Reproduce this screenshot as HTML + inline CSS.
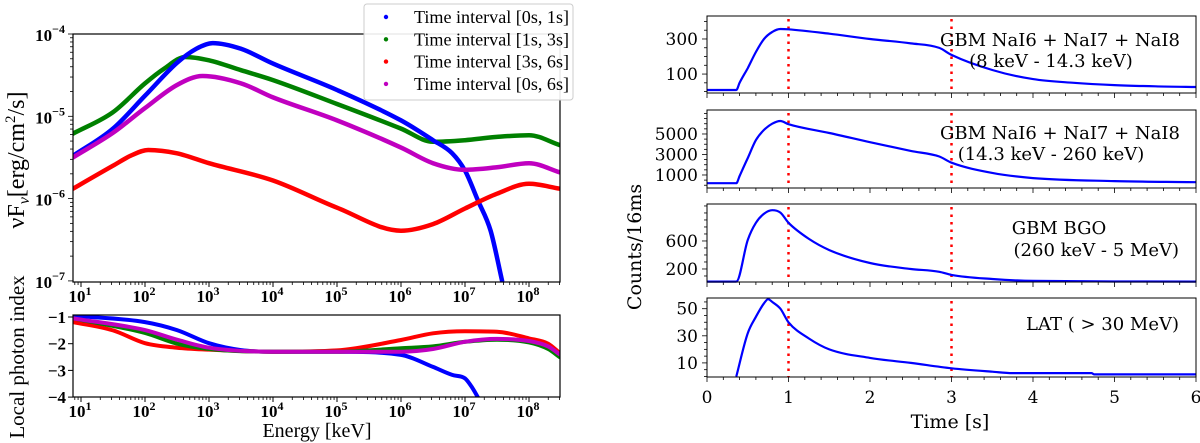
<!DOCTYPE html>
<html><head><meta charset="utf-8"><style>
html,body{margin:0;padding:0;background:#fff;}
svg{display:block;font-family:"Liberation Serif","DejaVu Serif",serif;}
.dv{font-family:"DejaVu Serif","Liberation Serif",serif;}
</style></head><body>
<svg id="fig" width="1200" height="443" viewBox="0 0 1200 443" xmlns="http://www.w3.org/2000/svg"></svg>
<script>
// ---------- Data: spectra (log10 E [keV] vs log10 nuFnu) ----------
const specNames = ["Time interval [0s, 1s]","Time interval [1s, 3s]","Time interval [3s, 6s]","Time interval [0s, 6s]"];
const specColors = ["#0000ff","#008000","#ff0000","#c000c0"];
const blueLogE = [0.875,1.5,2,2.5,2.8,3.06,3.5,4,5,6,6.5,6.8,7,7.2,7.4,7.58];
const blueLogF = [-5.48,-5.15,-4.75,-4.35,-4.18,-4.11,-4.18,-4.36,-4.68,-5.05,-5.29,-5.45,-5.66,-6.02,-6.39,-7.0];
const greenLogE = [0.875,1.5,2,2.3,2.63,3,3.5,4,5,6,6.5,7,7.5,8,8.48];
const greenLogF = [-5.21,-4.95,-4.6,-4.42,-4.28,-4.32,-4.44,-4.56,-4.85,-5.15,-5.31,-5.29,-5.25,-5.23,-5.35];
const redLogE = [0.875,1.5,1.8,2.05,2.5,3,4,5,6,6.5,7,7.5,8,8.48];
const redLogF = [-5.88,-5.6,-5.47,-5.41,-5.45,-5.57,-5.78,-6.11,-6.39,-6.31,-6.12,-5.94,-5.82,-5.88];
const magLogE = [0.875,1.5,2,2.5,2.9,3.5,4,5,6,6.5,7,7.5,8,8.48];
const magLogF = [-5.5,-5.2,-4.9,-4.62,-4.51,-4.6,-4.77,-5.05,-5.38,-5.57,-5.65,-5.62,-5.57,-5.68];
// ---------- Data: local photon index ----------
const blueIdxE = [0.875,2,2.5,3,3.5,4,5,6,6.5,6.8,7,7.1,7.2];
const blueIdx  = [-0.95,-1.19,-1.49,-1.98,-2.24,-2.3,-2.3,-2.42,-2.87,-3.17,-3.3,-3.6,-4.0];
const greenIdxE = [0.875,2,2.5,3,4,5,6,6.5,7,7.5,8,8.3,8.48];
const greenIdx  = [-1.05,-1.6,-2.0,-2.2,-2.3,-2.3,-2.17,-2.1,-1.93,-1.85,-1.95,-2.2,-2.5];
const redIdxE = [0.875,1.5,2,2.5,3,4,5,6,6.5,7,7.5,8,8.3,8.48];
const redIdx  = [-1.19,-1.5,-1.98,-2.15,-2.22,-2.3,-2.25,-1.86,-1.61,-1.53,-1.55,-1.8,-2.0,-2.35];
const magIdxE = [0.875,2,2.5,3,4,5,6,6.5,7,7.5,8,8.3,8.48];
const magIdx  = [-1.05,-1.49,-1.85,-2.15,-2.3,-2.3,-2.3,-2.2,-1.93,-1.82,-1.9,-2.1,-2.4];
// ---------- Data: light curves ----------
const lc1T = [0,0.36,0.4,0.5,0.6,0.7,0.8,0.9,1.0,1.5,2,2.5,2.85,3,3.5,4,4.5,5,5.5,6];
const lc1V = [9,9,50,134,226,300,340,357,355,330,300,275,249,209,123,71,50,37,30,26];
const lc2T = [0,0.36,0.4,0.5,0.6,0.7,0.8,0.9,1.0,1.5,2,2.5,2.85,3,3.5,4,5,6];
const lc2V = [200,200,900,2660,4400,5400,6000,6270,5950,5100,4200,3350,2800,2200,1200,700,400,300];
const lc3T = [0,0.36,0.5,0.6,0.7,0.8,0.9,1.0,1.25,1.5,2,2.5,2.85,3,3.5,4,6];
const lc3V = [20,20,615,860,990,1040,1005,860,630,470,285,200,160,115,57,30,20];
const lc4T = [0.36,0.5,0.6,0.7,0.75,0.8,0.9,1.0,1.25,1.5,2,2.5,3,3.5,3.75,4.72,4.75,6];
const lc4V = [0,32,44,54,57,55,50,40,28,20,13.7,10,6,3.5,2.5,2.5,1.5,1.5];
const lcLabels1 = ["GBM NaI6 + NaI7 + NaI8","(8 keV - 14.3 keV)"];
const lcLabels2 = ["GBM NaI6 + NaI7 + NaI8","(14.3 keV - 260 keV)"];
const lcLabels3 = ["GBM BGO","(260 keV - 5 MeV)"];
const lcLabels4 = ["LAT ( >  30 MeV)"];
const ticks1 = [100,300];
const ticks2 = [1000,3000,5000];
const ticks3 = [200,600];
const ticks4 = [10,30,50];
const timeTicks = [0,1,2,3,4,5,6];
const vLines = [1,3];

const NS="http://www.w3.org/2000/svg";
const svg=document.getElementById('fig');
function el(tag,attrs,parent){const e=document.createElementNS(NS,tag);for(const k in attrs)e.setAttribute(k,attrs[k]);(parent||svg).appendChild(e);return e;}
function txt(s,attrs,parent){const e=el('text',attrs,parent);e.textContent=s;return e;}
function smoothPath(P){
  const n=P.length;if(n<2)return '';
  const d=[],m=[];
  for(let i=0;i<n-1;i++){d.push((P[i+1][1]-P[i][1])/(P[i+1][0]-P[i][0]));}
  m[0]=d[0];m[n-1]=d[n-2];
  for(let i=1;i<n-1;i++){m[i]=(d[i-1]*d[i]<=0)?0:(d[i-1]+d[i])/2;}
  for(let i=0;i<n-1;i++){if(d[i]===0){m[i]=0;m[i+1]=0;continue;}const a=m[i]/d[i],b=m[i+1]/d[i],s=a*a+b*b;if(s>9){const t=3/Math.sqrt(s);m[i]=t*a*d[i];m[i+1]=t*b*d[i];}}
  let s='M'+P[0][0].toFixed(1)+','+P[0][1].toFixed(1);
  for(let i=0;i<n-1;i++){const h=(P[i+1][0]-P[i][0])/3;
    s+=' C'+(P[i][0]+h).toFixed(1)+','+(P[i][1]+m[i]*h).toFixed(1)+' '+(P[i+1][0]-h).toFixed(1)+','+(P[i+1][1]-m[i+1]*h).toFixed(1)+' '+P[i+1][0].toFixed(1)+','+P[i+1][1].toFixed(1);}
  return s;
}

// ---------- Left axes ----------
const LX0=73,LX1=560;
const xE=le=>81+(le-1)*64;
const yF=lf=>34+(-4-lf)*82.3;
const yI=v=>317+(-1-v)*26.7;
function logXTicks(yb,g){
  for(let d=0;d<=8;d++){for(let m=1;m<10;m++){const le=d+Math.log10(m);const x=xE(le);if(x<LX0||x>LX1)continue;
    const t=el('line',{x1:x,x2:x,y1:yb,y2:yb+(m===1?5:3),stroke:'#000','stroke-width':m===1?1:0.8},g);
    }}
  for(let d=1;d<=8;d++){const g2=el('text',{x:xE(d)-1,y:yb+20,'font-size':17,'font-weight':'bold','text-anchor':'middle'},g);
    
    g2.appendChild(document.createTextNode('10'));const s=el('tspan',{dy:-7,'font-size':12},g2);s.textContent=String(d);}
}
const gTop=el('g',{});
const clip=el('clipPath',{id:'cTop'},gTop);el('rect',{x:LX0,y:34,width:LX1-LX0,height:248},clip);
const clip2=el('clipPath',{id:'cBot'},gTop);el('rect',{x:LX0,y:315,width:LX1-LX0,height:82},clip2);
for(let p=-7;p<=-4;p++){for(let m=1;m<10;m++){const lf=p+Math.log10(m);if(lf>-4)continue;const y=yF(lf);
  const t=el('line',{x1:LX0-(m===1?5:3),x2:LX0,y1:y,y2:y,stroke:'#000','stroke-width':0.8},gTop);
  }
  const l=el('text',{x:LX0-8,y:yF(p)+7,'font-size':17,'font-weight':'bold','text-anchor':'end'},gTop);
  
  l.appendChild(document.createTextNode('10'));const s=el('tspan',{dy:-8,'font-size':12},l);s.textContent='\u2212'+(-p);}
logXTicks(282,gTop);
const specE=[blueLogE,greenLogE,redLogE,magLogE],specF=[blueLogF,greenLogF,redLogF,magLogF];
const sNames=['spectrum-0-1s','spectrum-1-3s','spectrum-3-6s','spectrum-0-6s'];
[1,0,3,2].forEach(i=>{const P=specE[i].map((e,j)=>[xE(e),yF(specF[i][j])]);
  const pl=el('path',{d:smoothPath(P),fill:'none',stroke:specColors[i],'stroke-width':4.5,'stroke-linejoin':'round','stroke-linecap':'round','clip-path':'url(#cTop)'},gTop);
  });
const fr1=el('rect',{x:LX0,y:34,width:LX1-LX0,height:248,fill:'none',stroke:'#000','stroke-width':1.2},gTop);

const yl1=el('text',{x:0,y:0,'font-size':24,'text-anchor':'middle',transform:'translate(24,160) rotate(-90)'},gTop);

yl1.appendChild(document.createTextNode('\u03BDF'));let ts=el('tspan',{dy:5,'font-size':16,'font-style':'italic'},yl1);ts.textContent='\u03BD';
ts=el('tspan',{dy:-5},yl1);ts.textContent='[erg/cm';ts=el('tspan',{dy:-9,'font-size':15},yl1);ts.textContent='2';ts=el('tspan',{dy:9},yl1);ts.textContent='/s]';

const gBot=el('g',{});
[-1,-2,-3,-4].forEach(v=>{const t=el('line',{x1:LX0-5,x2:LX0,y1:yI(v),y2:yI(v),stroke:'#000'},gBot);
  const l=txt('\u2212'+(-v),{x:LX0-7,y:yI(v)+6,'font-size':17,'font-weight':'bold','text-anchor':'end'},gBot);});
logXTicks(397,gBot);
const idxE=[blueIdxE,greenIdxE,redIdxE,magIdxE],idxV=[blueIdx,greenIdx,redIdx,magIdx];
const iNames=['index-0-1s','index-1-3s','index-3-6s','index-0-6s'];
[0,2,1,3].forEach(i=>{const P=idxE[i].map((e,j)=>[xE(e),yI(idxV[i][j])]);
  const pl=el('path',{d:smoothPath(P),fill:'none',stroke:specColors[i],'stroke-width':4,'stroke-linejoin':'round','stroke-linecap':'round','clip-path':'url(#cBot)'},gBot);
  });
const fr2=el('rect',{x:LX0,y:315,width:LX1-LX0,height:82,fill:'none',stroke:'#000','stroke-width':1.2},gBot);

const yl2=txt('Local photon index',{x:0,y:0,'font-size':21,'text-anchor':'middle',transform:'translate(24,357) rotate(-90)'},gBot);

const xl=txt('Energy [keV]',{x:317,y:437,'font-size':20,'text-anchor':'middle'},gBot);


const gL=el('g',{});
el('rect',{x:364,y:4,width:209,height:96,rx:3,fill:'#fff','fill-opacity':0.9,stroke:'#ccc'},gL);
specNames.forEach((n,i)=>{const y=17+i*22.3;const g=el('g',{},gL);
  el('circle',{cx:386,cy:y,r:2.2,fill:specColors[i]},g);txt(n,{x:414,y:y+6,'font-size':17.5,textLength:155,lengthAdjust:'spacingAndGlyphs'},g);});

// ---------- Right light curves ----------
const RX0=707,RX1=1196;
const xT=t=>RX0+t*(RX1-RX0)/6;
const panels=[
 {y0:16,y1:93,lo:-8,hi:431,T:lc1T,V:lc1V,ticks:ticks1,lab:lcLabels1,lx:[1060,1051],ly:[46,67],anc:['middle','middle'],name:'nai-low-panel'},
 {y0:110,y1:188,lo:-270,hi:7340,T:lc2T,V:lc2V,ticks:ticks2,lab:lcLabels2,lx:[1060,1051],ly:[139,160],anc:['middle','middle'],name:'nai-high-panel'},
 {y0:204,y1:282,lo:14,hi:1128,T:lc3T,V:lc3V,ticks:ticks3,lab:lcLabels3,lx:[1059,1179],ly:[234,256],anc:['middle','end'],name:'bgo-panel'},
 {y0:298,y1:377,lo:-0.4,hi:57.9,T:lc4T,V:lc4V,ticks:ticks4,lab:lcLabels4,lx:[1179],ly:[330],anc:['end'],name:'lat-panel'}];
panels.forEach((p,k)=>{
  const g=el('g',{class:'dv'});
  const yv=v=>p.y1-(v-p.lo)/(p.hi-p.lo)*(p.y1-p.y0);
  const step=(p.ticks[1]-p.ticks[0])/4;
  for(let v=p.ticks[0]-4*step;v<=p.hi;v+=step){if(v<p.lo)continue;const y=yv(v);const major=p.ticks.indexOf(Math.round(v))>=0;
    const t=el('line',{x1:RX0-(major?5:3),x2:RX0,y1:y,y2:y,stroke:'#000','stroke-width':0.8},g);}
  p.ticks.forEach(v=>{const l=txt(String(v),{x:RX0-9,y:yv(v)+6,'font-size':17,'text-anchor':'end'},g);});
  for(let t=0;t<=6.001;t+=0.2){const maj=Math.abs(t-Math.round(t))<0.01;const x=xT(t);
    const tk=el('line',{x1:x,x2:x,y1:p.y1,y2:p.y1+(maj?5:3),stroke:'#000','stroke-width':0.8},g);}
  vLines.forEach(t=>{const l=el('line',{x1:xT(t),x2:xT(t),y1:p.y0+3,y2:p.y1,stroke:'#ff0000','stroke-width':2.5,'stroke-dasharray':'2.5 5'},g);
    });
  const P=p.T.map((t,j)=>[xT(t),yv(p.V[j])]);
  const pl=el('path',{d:smoothPath(P),fill:'none',stroke:'#0000ff','stroke-width':2.2,'stroke-linejoin':'round'},g);
  
  const fr=el('rect',{x:RX0,y:p.y0,width:RX1-RX0,height:p.y1-p.y0,fill:'none',stroke:'#000','stroke-width':1},g);
  
  p.lab.forEach((s,i)=>{const l=txt(s,{x:p.lx[i],y:p.ly[i],'font-size':18,'text-anchor':p.anc[i]},g);
    });
  if(k===3){timeTicks.forEach(t=>{const l=txt(String(t),{x:xT(t),y:403,'font-size':17,'text-anchor':'middle'},g);
    });}
});
const tl=txt('Time [s]',{x:950,y:428,'font-size':19,'text-anchor':'middle',class:'dv'});

const cl=txt('Counts/16ms',{x:0,y:0,'font-size':19,'text-anchor':'middle',class:'dv',transform:'translate(641,247) rotate(-90)'});

</script>
</body></html>
